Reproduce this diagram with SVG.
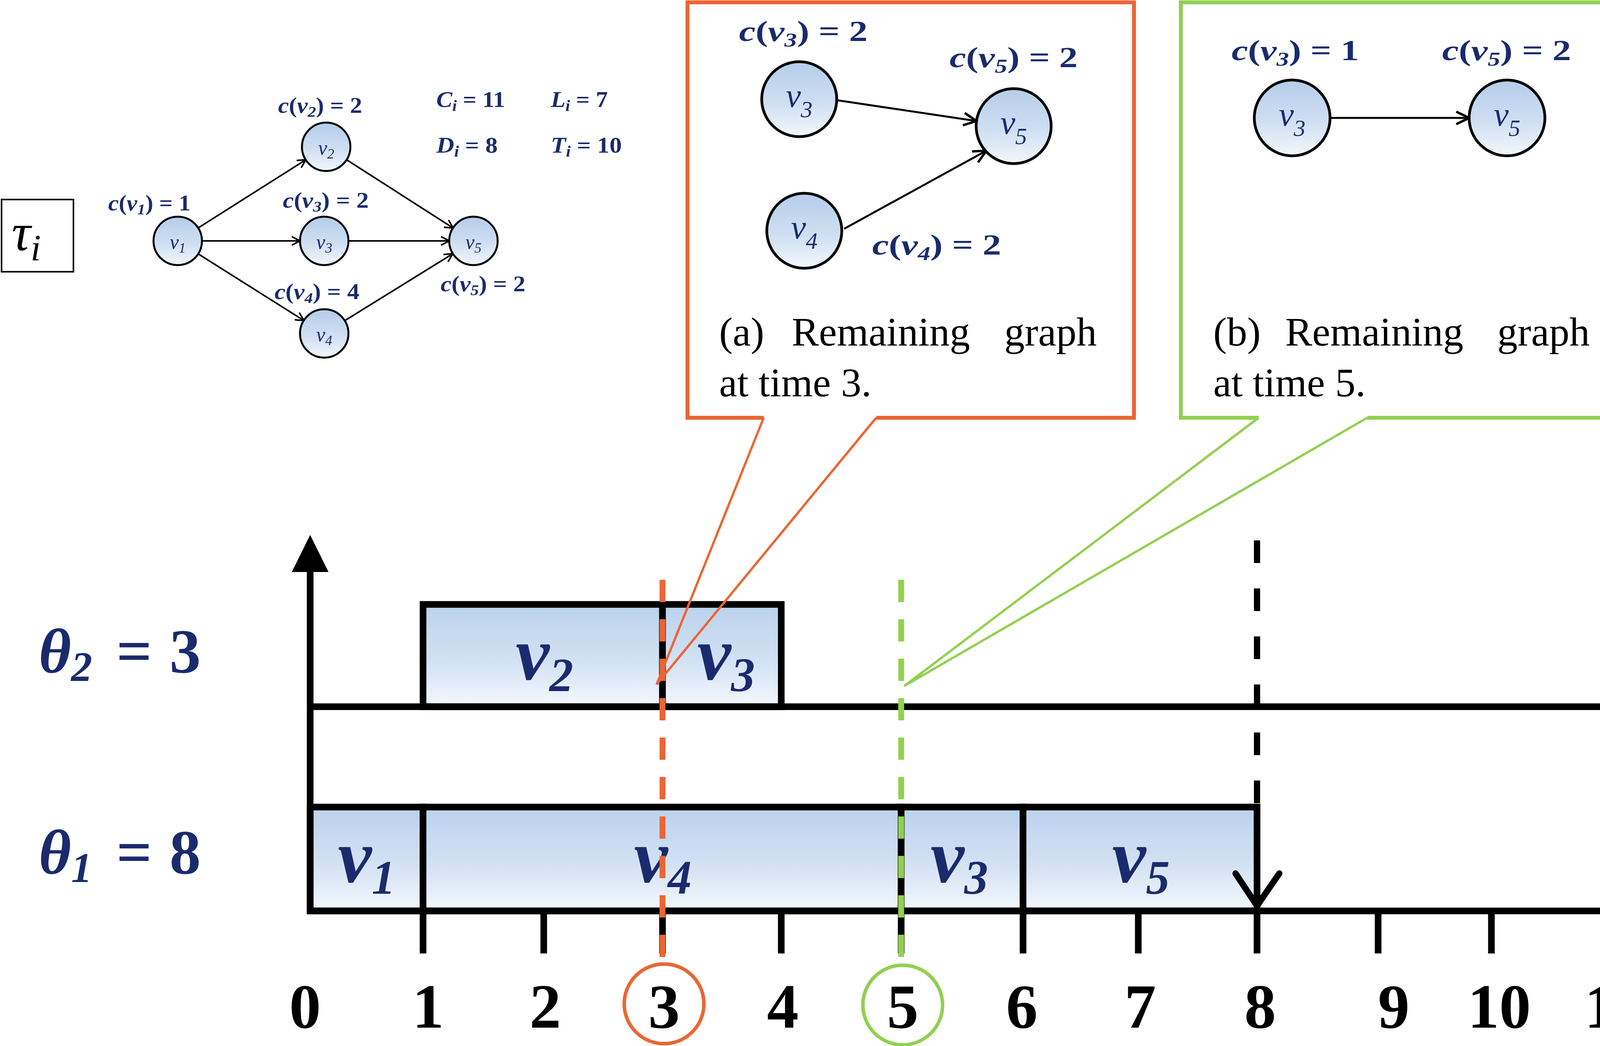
<svg xmlns="http://www.w3.org/2000/svg" width="4601" height="2679" viewBox="0 0 4601 2679">
<defs>
<style>
.lbl{font-family:"Liberation Serif",serif;font-weight:bold;fill:#1a2b6d}
.it{font-style:italic}
.nl{font-family:"Liberation Serif",serif;font-style:italic;fill:#1a2b6d;text-anchor:middle}
.bl{font-family:"Liberation Serif",serif;font-style:italic;font-weight:bold;fill:#1a2b6d}
.cap{font-family:"Liberation Serif",serif;font-size:104px;fill:#000}
.tk{font-family:"Liberation Serif",serif;font-weight:bold;font-size:162px;fill:#000;text-anchor:middle}
.node{fill:url(#cg);stroke:#000}
.box{fill:url(#bg);stroke:#000;stroke-width:17}
.ax{stroke:#000;stroke-width:17;fill:none;stroke-linecap:butt}
.chev{stroke:#000;stroke-width:16;fill:none;stroke-linecap:round;stroke-linejoin:miter}
.edge{stroke:#000;fill:none}
</style>
<linearGradient id="cg" x1="0" y1="0" x2="0" y2="1">
<stop offset="0" stop-color="#b4cdea"/>
<stop offset="0.55" stop-color="#cfdff2"/>
<stop offset="1" stop-color="#f3f7fc"/>
</linearGradient>
<linearGradient id="bg" x1="0" y1="0" x2="0" y2="1">
<stop offset="0" stop-color="#bad2ed"/>
<stop offset="0.55" stop-color="#d2e1f3"/>
<stop offset="1" stop-color="#f4f8fd"/>
</linearGradient>
<marker id="ahs" markerUnits="userSpaceOnUse" viewBox="0 0 26 26" markerWidth="26" markerHeight="26" refX="24" refY="13" orient="auto">
<path d="M3,2 L24,13 L3,24" fill="none" stroke="#000" stroke-width="4"/>
</marker>
<marker id="ahl" markerUnits="userSpaceOnUse" viewBox="0 0 40 40" markerWidth="40" markerHeight="40" refX="37" refY="20" orient="auto">
<path d="M4,4 L37,20 L4,36" fill="none" stroke="#000" stroke-width="6"/>
</marker>
</defs>
<rect x="0" y="0" width="4601" height="2679" fill="#fff"/>

<!-- task label -->
<g id="tau-label">
<rect x="4" y="511" width="184" height="185" fill="#fff" stroke="#000" stroke-width="4"/>
<text x="30" y="641" font-family="Liberation Serif,serif" font-style="italic" font-size="135" fill="#000">τ<tspan font-size="95" dy="26">i</tspan></text>
</g>

<!-- task parameters -->
<g id="params">
<text class="lbl" x="1117" y="274" font-size="58" textLength="176" lengthAdjust="spacingAndGlyphs"><tspan class="it">C</tspan><tspan class="it" font-size="40" dy="10">i</tspan><tspan dy="-10"> = 11</tspan></text>
<text class="lbl" x="1410" y="274" font-size="58" textLength="146" lengthAdjust="spacingAndGlyphs"><tspan class="it">L</tspan><tspan class="it" font-size="40" dy="10">i</tspan><tspan dy="-10"> = 7</tspan></text>
<text class="lbl" x="1117" y="391" font-size="58" textLength="157" lengthAdjust="spacingAndGlyphs"><tspan class="it">D</tspan><tspan class="it" font-size="40" dy="10">i</tspan><tspan dy="-10"> = 8</tspan></text>
<text class="lbl" x="1410" y="391" font-size="58" textLength="182" lengthAdjust="spacingAndGlyphs"><tspan class="it">T</tspan><tspan class="it" font-size="40" dy="10">i</tspan><tspan dy="-10"> = 10</tspan></text>
</g>

<!-- connectors -->
<g id="connectors">
<line class="edge" stroke-width="4" x1="507" y1="584" x2="783" y2="409" marker-end="url(#ahs)"/>
<line class="edge" stroke-width="4" x1="517" y1="617" x2="768" y2="617" marker-end="url(#ahs)"/>
<line class="edge" stroke-width="4" x1="507" y1="650" x2="778" y2="821" marker-end="url(#ahs)"/>
<line class="edge" stroke-width="4" x1="887" y1="409" x2="1160" y2="584" marker-end="url(#ahs)"/>
<line class="edge" stroke-width="4" x1="892" y1="617" x2="1150" y2="617" marker-end="url(#ahs)"/>
<line class="edge" stroke-width="4" x1="883" y1="821" x2="1159" y2="650" marker-end="url(#ahs)"/>
</g>

<!-- small graph nodes -->
<g id="g-v1"><circle class="node" stroke-width="5" cx="455" cy="617" r="62"/><text class="nl" x="455" y="637" font-size="52">v<tspan font-size="36" dy="10">1</tspan></text></g>
<g id="g-v2"><circle class="node" stroke-width="5" cx="835" cy="376" r="62"/><text class="nl" x="835" y="396" font-size="52">v<tspan font-size="36" dy="10">2</tspan></text></g>
<g id="g-v3"><circle class="node" stroke-width="5" cx="830" cy="617" r="62"/><text class="nl" x="830" y="637" font-size="52">v<tspan font-size="36" dy="10">3</tspan></text></g>
<g id="g-v4"><circle class="node" stroke-width="5" cx="830" cy="854" r="62"/><text class="nl" x="830" y="874" font-size="52">v<tspan font-size="36" dy="10">4</tspan></text></g>
<g id="g-v5"><circle class="node" stroke-width="5" cx="1212" cy="617" r="62"/><text class="nl" x="1212" y="637" font-size="52">v<tspan font-size="36" dy="10">5</tspan></text></g>

<!-- small graph cost labels -->
<g id="costs">
<text class="lbl" x="277" y="539" font-size="56" textLength="211" lengthAdjust="spacingAndGlyphs"><tspan class="it">c</tspan>(<tspan class="it">v</tspan><tspan class="it" font-size="38" dy="10">1</tspan><tspan dy="-10">) = 1</tspan></text>
<text class="lbl" x="712" y="289" font-size="56" textLength="215" lengthAdjust="spacingAndGlyphs"><tspan class="it">c</tspan>(<tspan class="it">v</tspan><tspan class="it" font-size="38" dy="10">2</tspan><tspan dy="-10">) = 2</tspan></text>
<text class="lbl" x="724" y="532" font-size="56" textLength="220" lengthAdjust="spacingAndGlyphs"><tspan class="it">c</tspan>(<tspan class="it">v</tspan><tspan class="it" font-size="38" dy="10">3</tspan><tspan dy="-10">) = 2</tspan></text>
<text class="lbl" x="703" y="766" font-size="56" textLength="217" lengthAdjust="spacingAndGlyphs"><tspan class="it">c</tspan>(<tspan class="it">v</tspan><tspan class="it" font-size="38" dy="10">4</tspan><tspan dy="-10">) = 4</tspan></text>
<text class="lbl" x="1128" y="746" font-size="56" textLength="217" lengthAdjust="spacingAndGlyphs"><tspan class="it">c</tspan>(<tspan class="it">v</tspan><tspan class="it" font-size="38" dy="10">5</tspan><tspan dy="-10">) = 2</tspan></text>
</g>

<!-- callout (a) -->
<g id="callout-a">
<path d="M1955,1070 L1760,1070 L1760,6 L2903,6 L2903,1070 L2243,1070" fill="#fff" stroke="#ec6534" stroke-width="10"/>
<text class="lbl" x="1892" y="105" font-size="74" textLength="329" lengthAdjust="spacingAndGlyphs"><tspan class="it">c</tspan>(<tspan class="it">v</tspan><tspan class="it" font-size="50" dy="14">3</tspan><tspan dy="-14">) = 2</tspan></text>
<text class="lbl" x="2431" y="172" font-size="74" textLength="328" lengthAdjust="spacingAndGlyphs"><tspan class="it">c</tspan>(<tspan class="it">v</tspan><tspan class="it" font-size="50" dy="14">5</tspan><tspan dy="-14">) = 2</tspan></text>
<text class="lbl" x="2233" y="652" font-size="74" textLength="330" lengthAdjust="spacingAndGlyphs"><tspan class="it">c</tspan>(<tspan class="it">v</tspan><tspan class="it" font-size="50" dy="14">4</tspan><tspan dy="-14">) = 2</tspan></text>
<text class="cap" x="1841" y="885"><tspan x="1841">(a)</tspan><tspan x="2027">Remaining</tspan><tspan x="2571">graph</tspan></text>
<text class="cap" x="1841" y="1015">at time 3.</text>
</g>
<g id="a-connectors">
<line class="edge" stroke-width="5" x1="2145" y1="257" x2="2500" y2="310" marker-end="url(#ahl)"/>
<line class="edge" stroke-width="5" x1="2161" y1="586" x2="2525" y2="386" marker-end="url(#ahl)"/>
</g>
<g id="a-v3"><circle class="node" stroke-width="7" cx="2046" cy="254" r="96"/><text class="nl" x="2046" y="274" font-size="86">v<tspan font-size="60" dy="26">3</tspan></text></g>
<g id="a-v5"><circle class="node" stroke-width="7" cx="2595" cy="323" r="96"/><text class="nl" x="2595" y="343" font-size="86">v<tspan font-size="60" dy="26">5</tspan></text></g>
<g id="a-v4"><circle class="node" stroke-width="7" cx="2059" cy="591" r="96"/><text class="nl" x="2059" y="611" font-size="86">v<tspan font-size="60" dy="26">4</tspan></text></g>

<!-- callout (b) -->
<g id="callout-b">
<path d="M3222,1070 L3023,1070 L3023,6 L4171,6 L4171,1070 L3500,1070" fill="#fff" stroke="#92d050" stroke-width="10"/>
<text class="lbl" x="3153" y="154" font-size="74" textLength="326" lengthAdjust="spacingAndGlyphs"><tspan class="it">c</tspan>(<tspan class="it">v</tspan><tspan class="it" font-size="50" dy="14">3</tspan><tspan dy="-14">) = 1</tspan></text>
<text class="lbl" x="3692" y="154" font-size="74" textLength="330" lengthAdjust="spacingAndGlyphs"><tspan class="it">c</tspan>(<tspan class="it">v</tspan><tspan class="it" font-size="50" dy="14">5</tspan><tspan dy="-14">) = 2</tspan></text>
<text class="cap" x="3106" y="885"><tspan x="3106">(b)</tspan><tspan x="3290">Remaining</tspan><tspan x="3833">graph</tspan></text>
<text class="cap" x="3106" y="1015">at time 5.</text>
</g>
<g id="b-connectors">
<line class="edge" stroke-width="5" x1="3405" y1="302" x2="3761" y2="302" marker-end="url(#ahl)"/>
</g>
<g id="b-v3"><circle class="node" stroke-width="7" cx="3308" cy="302" r="97"/><text class="nl" x="3308" y="322" font-size="86">v<tspan font-size="60" dy="26">3</tspan></text></g>
<g id="b-v5"><circle class="node" stroke-width="7" cx="3858" cy="302" r="97"/><text class="nl" x="3858" y="322" font-size="86">v<tspan font-size="60" dy="26">5</tspan></text></g>

<!-- timeline: processor labels -->
<g id="theta-labels">
<text class="lbl" y="1722" font-size="160"><tspan class="it" x="99">θ</tspan><tspan class="it" font-size="108" dy="22">2</tspan><tspan x="298" dy="-22">=</tspan><tspan x="434">3</tspan></text>
<text class="lbl" y="2237" font-size="160"><tspan class="it" x="99">θ</tspan><tspan class="it" font-size="108" dy="22">1</tspan><tspan x="298" dy="-22">=</tspan><tspan x="434">8</tspan></text>
</g>

<!-- timeline boxes -->
<g id="job-v2"><rect class="box" x="1083" y="1548" width="613" height="262"/><text class="bl" x="1320" y="1740" font-size="195">v<tspan font-size="122" dy="30">2</tspan></text></g>
<g id="job-v3a"><rect class="box" x="1696" y="1548" width="304" height="262"/><text class="bl" x="1785" y="1740" font-size="195">v<tspan font-size="122" dy="30">3</tspan></text></g>
<g id="job-v1"><rect class="box" x="794" y="2067" width="289" height="266"/><text class="bl" x="865" y="2259" font-size="195">v<tspan font-size="122" dy="30">1</tspan></text></g>
<g id="job-v4"><rect class="box" x="1083" y="2067" width="1224" height="266"/><text class="bl" x="1623" y="2259" font-size="195">v<tspan font-size="122" dy="30">4</tspan></text></g>
<g id="job-v3b"><rect class="box" x="2307" y="2067" width="312" height="266"/><text class="bl" x="2382" y="2259" font-size="195">v<tspan font-size="122" dy="30">3</tspan></text></g>
<g id="job-v5"><rect class="box" x="2619" y="2067" width="599" height="266"/><text class="bl" x="2847" y="2259" font-size="195">v<tspan font-size="122" dy="30">5</tspan></text></g>

<!-- axes -->
<g id="axes">
<line class="ax" x1="794" y1="2341" x2="794" y2="1450"/>
<polygon points="794,1370 747,1465 841,1465" fill="#000"/>
<line class="ax" x1="4143" y1="2442" x2="4143" y2="1450"/>
<polygon points="4143,1370 4096,1465 4190,1465" fill="#000"/>
<line class="ax" x1="786" y1="1810" x2="4545" y2="1810"/>
<polyline class="chev" points="4466,1742 4548,1810 4466,1880"/>
<line class="ax" x1="786" y1="2333" x2="4545" y2="2333"/>
<polyline class="chev" points="4466,2265 4548,2333 4466,2403"/>
<path class="ax" d="M1083,2333V2442 M1392,2333V2442 M1696,2333V2442 M2000,2333V2442 M2307,2333V2442 M2619,2333V2442 M2914,2333V2442 M3218,2333V2442 M3528,2333V2442 M3818,2333V2442"/>
<line x1="3218" y1="1384" x2="3218" y2="2067" stroke="#000" stroke-width="16" stroke-dasharray="58 65"/>
<polyline class="chev" points="3163,2237 3218,2320 3275,2237"/>
</g>

<!-- time markers -->
<g id="marker-3">
<line x1="1696" y1="1485" x2="1696" y2="2470" stroke="#ec6534" stroke-width="15" stroke-dasharray="57 44"/>
<circle cx="1700" cy="2571" r="102" fill="none" stroke="#ec6534" stroke-width="9"/>
</g>
<g id="marker-5">
<line x1="2307" y1="1485" x2="2307" y2="2470" stroke="#92d050" stroke-width="15" stroke-dasharray="57 44"/>
<circle cx="2311" cy="2574" r="102" fill="none" stroke="#92d050" stroke-width="9"/>
</g>

<!-- callout pointers -->
<g id="pointers">
<polyline points="1955,1070 1681,1753 2243,1070" fill="none" stroke="#ec6534" stroke-width="6"/>
<polyline points="3222,1070 2315,1757 3500,1070" fill="none" stroke="#92d050" stroke-width="6"/>
</g>

<!-- tick labels -->
<g id="tick-labels">
<text class="tk" x="781" y="2632">0</text>
<text class="tk" x="1096" y="2632">1</text>
<text class="tk" x="1396" y="2632">2</text>
<text class="tk" x="1700" y="2632">3</text>
<text class="tk" x="2004" y="2632">4</text>
<text class="tk" x="2311" y="2632">5</text>
<text class="tk" x="2616" y="2632">6</text>
<text class="tk" x="2919" y="2632">7</text>
<text class="tk" x="3226" y="2632">8</text>
<text class="tk" x="3568" y="2632">9</text>
<text class="tk" x="3838" y="2632">10</text>
<text class="tk" x="4133" y="2632">11</text>
<text class="tk" x="4487" y="2632" font-style="italic">t</text>
</g>
</svg>
